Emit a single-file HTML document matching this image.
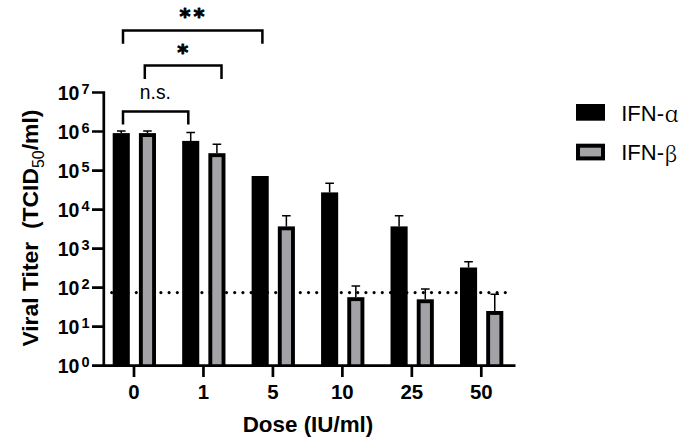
<!DOCTYPE html>
<html><head><meta charset="utf-8"><title>Viral titer chart</title>
<style>html,body{margin:0;padding:0;background:#fff;width:690px;height:441px;overflow:hidden}svg{display:block}</style>
</head><body>
<svg width="690" height="441" viewBox="0 0 690 441"><g fill="#000"><circle cx="111.70" cy="292.6" r="1.55"/><circle cx="119.90" cy="292.6" r="1.55"/><circle cx="128.10" cy="292.6" r="1.55"/><circle cx="136.30" cy="292.6" r="1.55"/><circle cx="144.50" cy="292.6" r="1.55"/><circle cx="152.70" cy="292.6" r="1.55"/><circle cx="160.90" cy="292.6" r="1.55"/><circle cx="169.10" cy="292.6" r="1.55"/><circle cx="177.30" cy="292.6" r="1.55"/><circle cx="185.50" cy="292.6" r="1.55"/><circle cx="193.70" cy="292.6" r="1.55"/><circle cx="201.90" cy="292.6" r="1.55"/><circle cx="210.10" cy="292.6" r="1.55"/><circle cx="218.30" cy="292.6" r="1.55"/><circle cx="226.50" cy="292.6" r="1.55"/><circle cx="234.70" cy="292.6" r="1.55"/><circle cx="242.90" cy="292.6" r="1.55"/><circle cx="251.10" cy="292.6" r="1.55"/><circle cx="259.30" cy="292.6" r="1.55"/><circle cx="267.50" cy="292.6" r="1.55"/><circle cx="275.70" cy="292.6" r="1.55"/><circle cx="283.90" cy="292.6" r="1.55"/><circle cx="292.10" cy="292.6" r="1.55"/><circle cx="300.30" cy="292.6" r="1.55"/><circle cx="308.50" cy="292.6" r="1.55"/><circle cx="316.70" cy="292.6" r="1.55"/><circle cx="324.90" cy="292.6" r="1.55"/><circle cx="333.10" cy="292.6" r="1.55"/><circle cx="341.30" cy="292.6" r="1.55"/><circle cx="349.50" cy="292.6" r="1.55"/><circle cx="357.70" cy="292.6" r="1.55"/><circle cx="365.90" cy="292.6" r="1.55"/><circle cx="374.10" cy="292.6" r="1.55"/><circle cx="382.30" cy="292.6" r="1.55"/><circle cx="390.50" cy="292.6" r="1.55"/><circle cx="398.70" cy="292.6" r="1.55"/><circle cx="406.90" cy="292.6" r="1.55"/><circle cx="415.10" cy="292.6" r="1.55"/><circle cx="423.30" cy="292.6" r="1.55"/><circle cx="431.50" cy="292.6" r="1.55"/><circle cx="439.70" cy="292.6" r="1.55"/><circle cx="447.90" cy="292.6" r="1.55"/><circle cx="456.10" cy="292.6" r="1.55"/><circle cx="464.30" cy="292.6" r="1.55"/><circle cx="472.50" cy="292.6" r="1.55"/><circle cx="480.70" cy="292.6" r="1.55"/><circle cx="488.90" cy="292.6" r="1.55"/><circle cx="497.10" cy="292.6" r="1.55"/><circle cx="505.30" cy="292.6" r="1.55"/></g>
<rect x="112.70" y="133.10" width="17.1" height="232.60" fill="#000"/>
<rect x="138.90" y="133.10" width="17.1" height="232.60" fill="#000"/>
<rect x="142.80" y="137.00" width="9.30" height="228.70" fill="#a3a2a7"/>
<path d="M121.25 133.10V130.90M116.95 130.90H125.55" stroke="#000" stroke-width="1.5" fill="none"/>
<path d="M147.45 133.10V130.90M143.15 130.90H151.75" stroke="#000" stroke-width="1.5" fill="none"/>
<rect x="182.16" y="140.90" width="17.1" height="224.80" fill="#000"/>
<rect x="208.36" y="153.20" width="17.1" height="212.50" fill="#000"/>
<rect x="212.26" y="157.10" width="9.30" height="208.60" fill="#a3a2a7"/>
<path d="M190.71 140.90V132.50M186.41 132.50H195.01" stroke="#000" stroke-width="1.5" fill="none"/>
<path d="M216.91 153.20V144.30M212.61 144.30H221.21" stroke="#000" stroke-width="1.5" fill="none"/>
<rect x="251.62" y="176.00" width="17.1" height="189.70" fill="#000"/>
<rect x="277.82" y="226.40" width="17.1" height="139.30" fill="#000"/>
<rect x="281.72" y="230.30" width="9.30" height="135.40" fill="#a3a2a7"/>
<path d="M286.37 226.40V215.70M282.07 215.70H290.67" stroke="#000" stroke-width="1.5" fill="none"/>
<rect x="321.08" y="192.40" width="17.1" height="173.30" fill="#000"/>
<rect x="347.28" y="297.20" width="17.1" height="68.50" fill="#000"/>
<rect x="351.18" y="301.10" width="9.30" height="64.60" fill="#a3a2a7"/>
<path d="M329.63 192.40V183.20M325.33 183.20H333.93" stroke="#000" stroke-width="1.5" fill="none"/>
<path d="M355.83 297.20V286.00M351.53 286.00H360.13" stroke="#000" stroke-width="1.5" fill="none"/>
<rect x="390.54" y="226.40" width="17.1" height="139.30" fill="#000"/>
<rect x="416.74" y="299.30" width="17.1" height="66.40" fill="#000"/>
<rect x="420.64" y="303.20" width="9.30" height="62.50" fill="#a3a2a7"/>
<path d="M399.09 226.40V215.80M394.79 215.80H403.39" stroke="#000" stroke-width="1.5" fill="none"/>
<path d="M425.29 299.30V289.00M420.99 289.00H429.59" stroke="#000" stroke-width="1.5" fill="none"/>
<rect x="460.00" y="267.50" width="17.1" height="98.20" fill="#000"/>
<rect x="486.20" y="311.00" width="17.1" height="54.70" fill="#000"/>
<rect x="490.10" y="314.90" width="9.30" height="50.80" fill="#a3a2a7"/>
<path d="M468.55 267.50V261.70M464.25 261.70H472.85" stroke="#000" stroke-width="1.5" fill="none"/>
<path d="M494.75 311.00V294.20M490.45 294.20H499.05" stroke="#000" stroke-width="1.5" fill="none"/>
<path d="M103.8 91.14V365.7M92 365.70H103.8M92 326.67H103.8M92 287.64H103.8M92 248.61H103.8M92 209.58H103.8M92 170.55H103.8M92 131.52H103.8M92 92.49H103.8M92 365.7H515.5M134.00 365.7V377M203.46 365.7V377M272.92 365.7V377M342.38 365.7V377M411.84 365.7V377M481.30 365.7V377" stroke="#000" stroke-width="2.7" fill="none"/>
<path d="M123 43.8V30.6H262.4V43.8" stroke="#000" stroke-width="2.5" fill="none" stroke-linejoin="miter"/>
<path d="M144.8 79V65.5H221.5V79" stroke="#000" stroke-width="2.5" fill="none" stroke-linejoin="miter"/>
<path d="M123 124.5V111.5H188.3V124.5" stroke="#000" stroke-width="2.5" fill="none" stroke-linejoin="miter"/>
<text x="185" y="23.9" font-family="'DejaVu Sans', sans-serif" font-weight="bold" font-size="21" stroke="#000" stroke-width="0.9" stroke-linejoin="round" text-anchor="middle">*</text>
<text x="198.9" y="23.9" font-family="'DejaVu Sans', sans-serif" font-weight="bold" font-size="21" stroke="#000" stroke-width="0.9" stroke-linejoin="round" text-anchor="middle">*</text>
<text x="182.7" y="59.8" font-family="'DejaVu Sans', sans-serif" font-weight="bold" font-size="21" stroke="#000" stroke-width="0.9" stroke-linejoin="round" text-anchor="middle">*</text>
<text x="155.4" y="99.1" font-family="'Liberation Sans', Arial, sans-serif" font-size="19.3" text-anchor="middle">n.s.</text>
<text x="79.4" y="372.90" font-family="'Liberation Sans', Arial, sans-serif" font-weight="bold" font-size="19.5" text-anchor="end">10</text>
<text x="81.6" y="367.00" font-family="'Liberation Sans', Arial, sans-serif" font-weight="bold" font-size="14.5">0</text>
<text x="79.4" y="333.87" font-family="'Liberation Sans', Arial, sans-serif" font-weight="bold" font-size="19.5" text-anchor="end">10</text>
<text x="81.6" y="327.97" font-family="'Liberation Sans', Arial, sans-serif" font-weight="bold" font-size="14.5">1</text>
<text x="79.4" y="294.84" font-family="'Liberation Sans', Arial, sans-serif" font-weight="bold" font-size="19.5" text-anchor="end">10</text>
<text x="81.6" y="288.94" font-family="'Liberation Sans', Arial, sans-serif" font-weight="bold" font-size="14.5">2</text>
<text x="79.4" y="255.81" font-family="'Liberation Sans', Arial, sans-serif" font-weight="bold" font-size="19.5" text-anchor="end">10</text>
<text x="81.6" y="249.91" font-family="'Liberation Sans', Arial, sans-serif" font-weight="bold" font-size="14.5">3</text>
<text x="79.4" y="216.78" font-family="'Liberation Sans', Arial, sans-serif" font-weight="bold" font-size="19.5" text-anchor="end">10</text>
<text x="81.6" y="210.88" font-family="'Liberation Sans', Arial, sans-serif" font-weight="bold" font-size="14.5">4</text>
<text x="79.4" y="177.75" font-family="'Liberation Sans', Arial, sans-serif" font-weight="bold" font-size="19.5" text-anchor="end">10</text>
<text x="81.6" y="171.85" font-family="'Liberation Sans', Arial, sans-serif" font-weight="bold" font-size="14.5">5</text>
<text x="79.4" y="138.72" font-family="'Liberation Sans', Arial, sans-serif" font-weight="bold" font-size="19.5" text-anchor="end">10</text>
<text x="81.6" y="132.82" font-family="'Liberation Sans', Arial, sans-serif" font-weight="bold" font-size="14.5">6</text>
<text x="79.4" y="99.69" font-family="'Liberation Sans', Arial, sans-serif" font-weight="bold" font-size="19.5" text-anchor="end">10</text>
<text x="81.6" y="93.79" font-family="'Liberation Sans', Arial, sans-serif" font-weight="bold" font-size="14.5">7</text>
<text x="134.00" y="398.9" font-family="'Liberation Sans', Arial, sans-serif" font-weight="bold" font-size="20.4" text-anchor="middle">0</text>
<text x="203.46" y="398.9" font-family="'Liberation Sans', Arial, sans-serif" font-weight="bold" font-size="20.4" text-anchor="middle">1</text>
<text x="272.92" y="398.9" font-family="'Liberation Sans', Arial, sans-serif" font-weight="bold" font-size="20.4" text-anchor="middle">5</text>
<text x="342.38" y="398.9" font-family="'Liberation Sans', Arial, sans-serif" font-weight="bold" font-size="20.4" text-anchor="middle">10</text>
<text x="411.84" y="398.9" font-family="'Liberation Sans', Arial, sans-serif" font-weight="bold" font-size="20.4" text-anchor="middle">25</text>
<text x="481.30" y="398.9" font-family="'Liberation Sans', Arial, sans-serif" font-weight="bold" font-size="20.4" text-anchor="middle">50</text>
<text x="308" y="431.5" font-family="'Liberation Sans', Arial, sans-serif" font-weight="bold" font-size="22.4" text-anchor="middle">Dose (IU/ml)</text>
<text transform="translate(38.3 228.1) rotate(-90)" font-family="'Liberation Sans', Arial, sans-serif" font-weight="bold" font-size="22.9" text-anchor="middle" xml:space="preserve">Viral Titer  (TCID<tspan font-size="16" font-weight="normal" dy="5.5">50</tspan><tspan dy="-5.5">/ml)</tspan></text>
<rect x="576" y="104" width="29" height="16.7" fill="#000"/>
<rect x="576" y="143.7" width="29" height="16.7" fill="#000"/>
<rect x="580" y="147.7" width="21" height="8.7" fill="#a3a2a7"/>
<text x="621.2" y="120.8" font-family="'Liberation Sans', Arial, sans-serif" font-size="22">IFN-<tspan font-family="'Noto Serif CJK SC', 'Liberation Serif', serif" font-size="23" dx="0.8" dy="1.2">α</tspan></text>
<text x="621.2" y="160.2" font-family="'Liberation Sans', Arial, sans-serif" font-size="22">IFN-<tspan font-family="'Noto Serif CJK SC', 'Liberation Serif', serif" font-size="21" dx="0.3" dy="1.3">β</tspan></text></svg>
</body></html>
